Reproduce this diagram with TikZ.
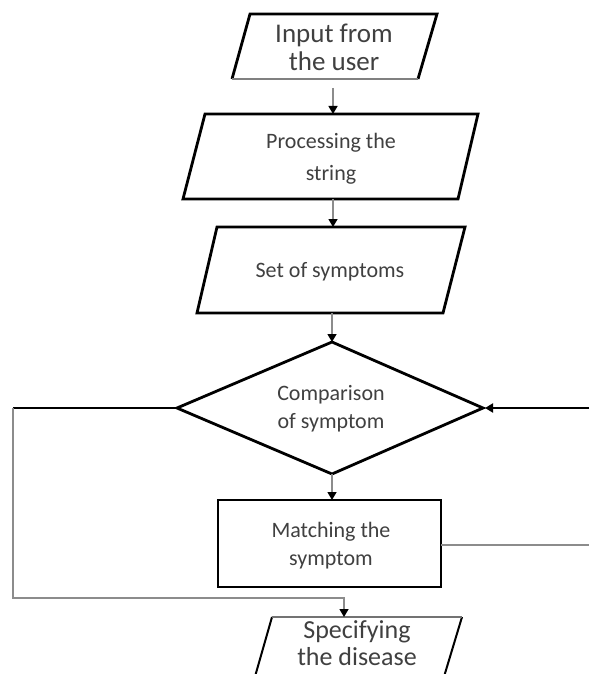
\documentclass[tikz,border=0pt]{standalone}
\usepackage{fontspec}
\setmainfont{Carlito}
\usetikzlibrary{arrows.meta}
\begin{document}
\begin{tikzpicture}[x=1pt,y=-1pt,
  shapeline/.style={draw=black,line width=2.8pt,line join=miter},
  thinshape/.style={draw=black,line width=2pt,line join=miter},
  conn/.style={draw=black!45,line width=1.4pt},
  darkconn/.style={draw=black,line width=2.4pt},
  tip/.style={-{Triangle[length=8pt,width=9pt,color=black]}},
  bigtxt/.style={font=\fontsize{27}{28}\selectfont,text=black!75,align=center,inner sep=0pt},
  smalltxt/.style={font=\fontsize{22}{28}\selectfont,text=black!75,align=center,inner sep=0pt}]
\fill[white] (0,0) rectangle (589,674);
\clip (0,0) rectangle (589,674);

% shapes
\draw[shapeline] (232,79) -- (250,14) -- (437,14) -- (418,79);
\draw[draw=black!50,line width=2.8pt] (232,79) -- (418,79);
\draw[shapeline] (205,114) -- (478,114) -- (458,199) -- (183,199) -- cycle;
\draw[shapeline] (217,227) -- (465,227) -- (443,313) -- (197,313) -- cycle;
\draw[shapeline] (332,342) -- (483,408) -- (332,474) -- (177,408) -- cycle;
\draw[shapeline] (218,500) rectangle (441,587);
\draw[thinshape] (254,680) -- (272,617);
\draw[thinshape] (462,617) -- (443,680);
\draw[draw=black!55,line width=2pt] (272,617) -- (462,617);

% texts
\node[bigtxt] (input) at (334,47) {Input from\\the user};
\node[smalltxt,font=\fontsize{22}{32}\selectfont] (proc) at (331,159) {Processing the\\string};
\node[smalltxt] (set) at (330,272) {Set of symptoms};
\node[smalltxt] (comp) at (331,409) {Comparison\\of symptom};
\node[smalltxt] (match) at (331,546) {Matching the\\symptom};
\node[bigtxt,font=\fontsize{26}{27}\selectfont] (spec) at (357,643) {Specifying\\the disease};

% anchor points
\coordinate (s1b) at (333,88);
\coordinate (s2t) at (333,114);
\coordinate (s2b) at (333,199);
\coordinate (s3t) at (333,227);
\coordinate (s3b) at (332,313);
\coordinate (dt) at (332,342);
\coordinate (db) at (332,474);
\coordinate (dl) at (177,408);
\coordinate (dr) at (485,408);
\coordinate (rt) at (332,500);
\coordinate (rr) at (441,545);
\coordinate (st) at (344,617);
\coordinate (lc) at (13,408);
\coordinate (lb) at (13,598);
\coordinate (lm) at (344,598);
\coordinate (re) at (589,408);
\coordinate (re2) at (589,545);

% connectors
\draw[conn,tip] (s1b) -- (s2t);
\draw[conn,tip] (s2b) -- (s3t);
\draw[conn,tip] (s3b) -- (dt);
\draw[conn,tip] (db) -- (rt);
\draw[darkconn] (dl) -- (lc);
\draw[conn,tip] (lc) -- (lb) -- (lm) -- (st);
\draw[darkconn,tip] (re) -- (dr);
\draw[conn] (rr) -- (re2);
\end{tikzpicture}
\end{document}
